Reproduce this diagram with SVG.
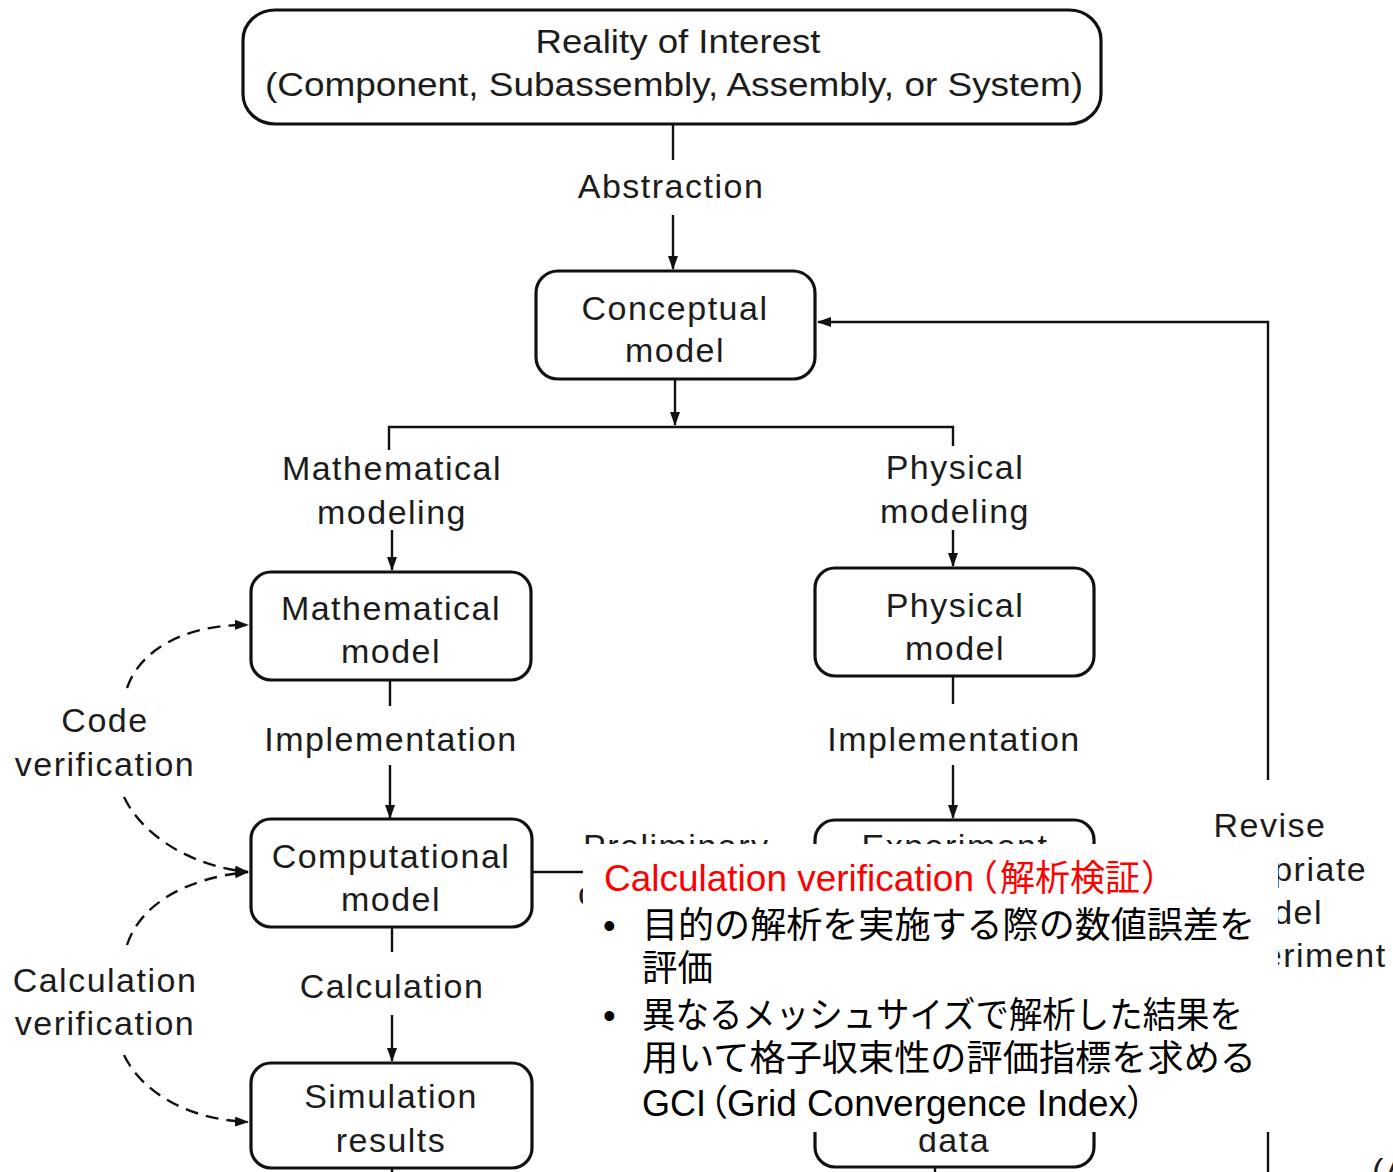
<svg xmlns="http://www.w3.org/2000/svg" width="1393" height="1172" viewBox="0 0 1393 1172">
  <style>
    .box { fill: #fff; stroke: #111; stroke-width: 3.2; }
    .lbl { font-family: "Liberation Sans", Arial, sans-serif; font-size: 34px; fill: #1c1c1c; letter-spacing: 1.5px; text-anchor: middle; }
    .cond { font-family: "Liberation Sans", Arial, sans-serif; font-size: 33px; fill: #1c1c1c; text-anchor: middle; }
    .wire { fill: none; stroke: #111; stroke-width: 2.4; }
    .dash { fill: none; stroke: #111; stroke-width: 2.4; stroke-dasharray: 13 8; }
    .note { font-family: "Liberation Sans", "Noto Sans CJK JP", sans-serif; font-size: 36px; fill: #000; }
    .red { fill: #ff0000; }
  </style>
  <defs>
    <marker id="arr" viewBox="0 0 14 10" refX="13" refY="5" markerWidth="14" markerHeight="10" markerUnits="userSpaceOnUse" orient="auto">
      <path d="M0,0 L14,5 L0,10 Z" fill="#111"/>
    </marker>
    <!-- everything except the callout panel area -->
    <clipPath id="outsidePanel">
      <path clip-rule="evenodd" d="M0,0 H1393 V1172 H0 Z M583,844 H1278 V1132 H583 Z"/>
    </clipPath>
  </defs>

  <rect width="1393" height="1172" fill="#fff"/>

  <!-- connectors -->
  <g id="connectors">
    <line class="wire" x1="673" y1="124" x2="673" y2="160"/>
    <line class="wire" x1="673" y1="215" x2="673" y2="269" marker-end="url(#arr)"/>
    <line class="wire" x1="675" y1="380" x2="675" y2="425" marker-end="url(#arr)"/>
    <polyline class="wire" points="389,450 389,427 953,427 953,446"/>
    <line class="wire" x1="392" y1="530" x2="392" y2="570" marker-end="url(#arr)"/>
    <line class="wire" x1="953" y1="530" x2="953" y2="566" marker-end="url(#arr)"/>
    <line class="wire" x1="390" y1="680" x2="390" y2="706"/>
    <line class="wire" x1="390" y1="765" x2="390" y2="818" marker-end="url(#arr)"/>
    <line class="wire" x1="953" y1="676" x2="953" y2="704"/>
    <line class="wire" x1="953" y1="765" x2="953" y2="818" marker-end="url(#arr)"/>
    <line class="wire" x1="392" y1="927" x2="392" y2="952"/>
    <line class="wire" x1="392" y1="1015" x2="392" y2="1061" marker-end="url(#arr)"/>
    <line class="wire" x1="532" y1="872" x2="583" y2="872"/>
    <line class="wire" x1="392" y1="1168" x2="392" y2="1172"/>
    <line class="wire" x1="935" y1="1166" x2="935" y2="1172"/>
    <!-- revise feedback loop -->
    <polyline class="wire" points="1268,780 1268,322 818,322" marker-end="url(#arr)"/>
    <line class="wire" x1="1268" y1="1132" x2="1268" y2="1172"/>
    <!-- verification arcs -->
    <path class="dash" d="M127,688 C140,650 185,624 248,625" marker-end="url(#arr)"/>
    <path class="dash" d="M124,797 C142,835 190,866 248,872" marker-end="url(#arr)"/>
    <path class="dash" d="M127,945 C140,905 185,878 248,872" marker-end="url(#arr)"/>
    <path class="dash" d="M124,1055 C142,1093 190,1120 248,1122" marker-end="url(#arr)"/>
  </g>

  <!-- connector labels -->
  <g id="labels">
    <text class="lbl" x="671" y="198">Abstraction</text>
    <text class="lbl" x="392" y="480">Mathematical</text>
    <text class="lbl" x="392" y="524">modeling</text>
    <text class="lbl" x="955" y="479">Physical</text>
    <text class="lbl" x="955" y="523">modeling</text>
    <text class="lbl" x="391" y="751">Implementation</text>
    <text class="lbl" x="954" y="751">Implementation</text>
    <text class="lbl" x="392" y="998">Calculation</text>
    <text class="lbl" x="105" y="732">Code</text>
    <text class="lbl" x="105" y="776">verification</text>
    <text class="lbl" x="105" y="992">Calculation</text>
    <text class="lbl" x="105" y="1035">verification</text>
    <text class="lbl" x="1270" y="837">Revise</text>
    <g clip-path="url(#outsidePanel)">
      <text class="lbl" x="1273" y="881">appropriate</text>
      <text class="lbl" x="1273" y="924">model</text>
      <text class="lbl" x="1273" y="967">or experiment</text>
      <text class="lbl" x="583" y="858" style="text-anchor:start">Preliminary</text>
      <text class="lbl" x="578" y="905" style="text-anchor:start">calculations</text>
    </g>
    <text class="lbl" x="1372" y="1182" style="text-anchor:start">(A</text>
  </g>

  <!-- nodes -->
  <g id="reality">
    <rect class="box" x="243" y="10" width="858" height="114" rx="32" ry="30"/>
    <text class="cond" x="678" y="53" textLength="285" lengthAdjust="spacingAndGlyphs">Reality of Interest</text>
    <text class="cond" x="674" y="96" textLength="818" lengthAdjust="spacingAndGlyphs">(Component, Subassembly, Assembly, or System)</text>
  </g>
  <g id="conceptual">
    <rect class="box" x="536" y="271" width="279" height="108" rx="22"/>
    <text class="lbl" x="675" y="320">Conceptual</text>
    <text class="lbl" x="675" y="362">model</text>
  </g>
  <g id="mathematical">
    <rect class="box" x="251" y="572" width="280" height="108" rx="20"/>
    <text class="lbl" x="391" y="620">Mathematical</text>
    <text class="lbl" x="391" y="663">model</text>
  </g>
  <g id="physical">
    <rect class="box" x="815" y="568" width="279" height="108" rx="20"/>
    <text class="lbl" x="955" y="617">Physical</text>
    <text class="lbl" x="955" y="660">model</text>
  </g>
  <g id="computational">
    <rect class="box" x="251" y="819" width="281" height="108" rx="20"/>
    <text class="lbl" x="391" y="868">Computational</text>
    <text class="lbl" x="391" y="911">model</text>
  </g>
  <g id="experiment">
    <rect class="box" x="815" y="820" width="279" height="108" rx="20"/>
    <text class="lbl" x="955" y="858" clip-path="url(#outsidePanel)">Experiment</text>
  </g>
  <g id="simulation">
    <rect class="box" x="251" y="1063" width="281" height="105" rx="20"/>
    <text class="lbl" x="391" y="1108">Simulation</text>
    <text class="lbl" x="391" y="1152">results</text>
  </g>
  <g id="data">
    <rect class="box" x="815" y="1060" width="279" height="107" rx="20"/>
    <text class="lbl" x="954" y="1152">data</text>
  </g>

  <!-- callout panel -->
  <g id="callout">
    <rect x="583" y="844" width="695" height="288" fill="#fff"/>
    <text class="note red" y="891"><tspan x="604" textLength="370" lengthAdjust="spacingAndGlyphs">Calculation verification</tspan><tspan x="962">（</tspan><tspan x="1000" textLength="140" lengthAdjust="spacingAndGlyphs">解析検証</tspan><tspan x="1141">）</tspan></text>
    <text class="note" x="603" y="938">•</text>
    <text class="note" x="642" y="938" textLength="613" lengthAdjust="spacingAndGlyphs">目的の解析を実施する際の数値誤差を</text>
    <text class="note" x="642" y="981" textLength="71" lengthAdjust="spacingAndGlyphs">評価</text>
    <text class="note" x="603" y="1028">•</text>
    <text class="note" x="642" y="1028" textLength="601" lengthAdjust="spacingAndGlyphs">異なるメッシュサイズで解析した結果を</text>
    <text class="note" x="642" y="1071" textLength="614" lengthAdjust="spacingAndGlyphs">用いて格子収束性の評価指標を求める</text>
    <text class="note" y="1116"><tspan x="642">GCI</tspan><tspan x="692">（</tspan><tspan x="727" textLength="400" lengthAdjust="spacingAndGlyphs">Grid Convergence Index</tspan><tspan x="1126">）</tspan></text>
  </g>
</svg>
